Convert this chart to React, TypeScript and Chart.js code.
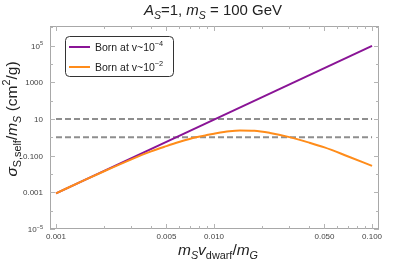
import React, { useEffect, useRef } from "react";
import { Chart, registerables } from "chart.js";
Chart.register(...registerables);

// ---- data ----
const purpleX = [0.001, 0.1];
const purpleY = [0.00088, 98000];
const orangeX = [0.001, 0.0015, 0.002, 0.003, 0.004, 0.005, 0.006, 0.007, 0.0077, 0.009, 0.01, 0.0125, 0.0146, 0.018, 0.0226, 0.03, 0.04, 0.05, 0.07, 0.1];
const orangeY = [0.00088, 0.00447, 0.0137, 0.0628, 0.17, 0.33, 0.551, 0.815, 1.0, 1.32, 1.57, 2.14, 2.37, 2.29, 1.74, 1.02, 0.513, 0.282, 0.0933, 0.0279];
const boundX = [0.001, 0.1];
const boundLevels = [10, 1];
const seriesNames = ["Born at v~10", "Born at v~10"];
const seriesExps = ["\u22124", "\u22122"];
const xMajorTicks = [0.001, 0.005, 0.01, 0.05, 0.1];
const xTickLabels = ["0.001", "0.005", "0.010", "0.050", "0.100"];
const xMinorTicks = [0.002, 0.003, 0.004, 0.006, 0.007, 0.008, 0.009, 0.02, 0.03, 0.04, 0.06, 0.07, 0.08, 0.09];
const yMajorTicks = [1e-5, 1e-3, 0.1, 10, 1000, 1e5];
const yTickBase = ["10", "0.001", "0.100", "10", "1000", "10"];
const yTickExp = ["\u22125", "", "", "", "", "5"];
const yMinorTicks = [1e-4, 0.01, 1, 100, 1e4, 1e6];

const PURPLE = "#8a1496";
const ORANGE = "#ff8c1a";
const GRAY = "#8e8e8e";
const FONT = "'Liberation Sans', Arial, sans-serif";

type Run = { t: string; it?: boolean; sub?: boolean; sup?: boolean };

function runFont(r: Run, size: number) {
  const s = r.sub || r.sup ? size * 0.7 : size;
  return `${r.it ? "italic " : ""}${s}px ${FONT}`;
}

function drawRuns(ctx: CanvasRenderingContext2D, runs: Run[], x: number, y: number, size: number, align: "left" | "center" | "right", color: string) {
  ctx.save();
  ctx.textAlign = "left";
  ctx.textBaseline = "alphabetic";
  ctx.fillStyle = color;
  let total = 0;
  const widths = runs.map((r) => {
    ctx.font = runFont(r, size);
    const w = ctx.measureText(r.t).width;
    total += w;
    return w;
  });
  let cx = align === "left" ? x : align === "center" ? x - total / 2 : x - total;
  runs.forEach((r, i) => {
    ctx.font = runFont(r, size);
    const dy = r.sub ? size * 0.25 : r.sup ? -size * 0.42 : 0;
    ctx.fillText(r.t, cx, y + dy);
    cx += widths[i];
  });
  ctx.restore();
}

const decorPlugin = {
  id: "decor",
  afterDraw(chart: any) {
    const ctx: CanvasRenderingContext2D = chart.ctx;
    const { left, right, top, bottom } = chart.chartArea;
    const xs = chart.scales.x;
    const ys = chart.scales.y;
    ctx.save();
    // frame
    ctx.strokeStyle = "#a8a8a8";
    ctx.lineWidth = 1;
    ctx.strokeRect(left + 0.5, top + 0.5, right - left - 1, bottom - top - 1);
    // ticks
    const tick = (x1: number, y1: number, x2: number, y2: number) => {
      ctx.beginPath();
      ctx.moveTo(x1, y1);
      ctx.lineTo(x2, y2);
      ctx.stroke();
    };
    ctx.strokeStyle = "#b4b4b4";
    xMajorTicks.forEach((v) => {
      const px = Math.round(xs.getPixelForValue(v)) + 0.5;
      tick(px, bottom, px, bottom - 5);
      tick(px, top, px, top + 5);
    });
    xMinorTicks.forEach((v) => {
      const px = Math.round(xs.getPixelForValue(v)) + 0.5;
      tick(px, bottom, px, bottom - 3);
      tick(px, top, px, top + 3);
    });
    yMajorTicks.forEach((v) => {
      const py = Math.round(ys.getPixelForValue(v)) + 0.5;
      tick(left, py, left + 5, py);
      tick(right, py, right - 5, py);
    });
    yMinorTicks.forEach((v) => {
      const py = Math.round(ys.getPixelForValue(v)) + 0.5;
      if (py < top + 1) return;
      tick(left, py, left + 3, py);
      tick(right, py, right - 3, py);
    });
    // tick labels
    xMajorTicks.forEach((v, i) => {
      const px = xs.getPixelForValue(v);
      drawRuns(ctx, [{ t: xTickLabels[i] }], px, bottom + 10, 8, "center", "#444");
    });
    yMajorTicks.forEach((v, i) => {
      const py = ys.getPixelForValue(v);
      const runs: Run[] = [{ t: yTickBase[i] }];
      if (yTickExp[i]) runs.push({ t: yTickExp[i], sup: true });
      drawRuns(ctx, runs, left - 7, py + 3, 8, "right", "#444");
    });
    // title
    drawRuns(
      ctx,
      [
        { t: "A", it: true },
        { t: "S", it: true, sub: true },
        { t: "=1, " },
        { t: "m", it: true },
        { t: "S", it: true, sub: true },
        { t: " = 100 GeV" },
      ],
      213,
      15,
      15,
      "center",
      "#222"
    );
    // x title
    drawRuns(
      ctx,
      [
        { t: "m", it: true },
        { t: "S", it: true, sub: true },
        { t: "v", it: true },
        { t: "dwarf", sub: true },
        { t: "/" },
        { t: "m", it: true },
        { t: "G", it: true, sub: true },
      ],
      218,
      255,
      15.5,
      "center",
      "#222"
    );
    // y title
    ctx.save();
    ctx.translate(17, 119);
    ctx.rotate(-Math.PI / 2);
    drawRuns(
      ctx,
      [
        { t: "\u03c3", it: true },
        { t: "S,self", sub: true },
        { t: "/" },
        { t: "m", it: true },
        { t: "S", it: true, sub: true },
        { t: " (cm" },
        { t: "2", sup: true },
        { t: "/g)" },
      ],
      0,
      0,
      15.5,
      "center",
      "#222"
    );
    ctx.restore();
    // legend
    const lx = 65.5, ly = 36.5, lw = 108, lh = 40, r = 4;
    ctx.fillStyle = "#fff";
    ctx.strokeStyle = "#333";
    ctx.lineWidth = 1;
    ctx.beginPath();
    ctx.moveTo(lx + r, ly);
    ctx.lineTo(lx + lw - r, ly);
    ctx.arcTo(lx + lw, ly, lx + lw, ly + r, r);
    ctx.lineTo(lx + lw, ly + lh - r);
    ctx.arcTo(lx + lw, ly + lh, lx + lw - r, ly + lh, r);
    ctx.lineTo(lx + r, ly + lh);
    ctx.arcTo(lx, ly + lh, lx, ly + lh - r, r);
    ctx.lineTo(lx, ly + r);
    ctx.arcTo(lx, ly, lx + r, ly, r);
    ctx.closePath();
    ctx.fill();
    ctx.stroke();
    const colors = [PURPLE, ORANGE];
    seriesNames.forEach((name, i) => {
      const yy = 47 + i * 20;
      ctx.strokeStyle = colors[i];
      ctx.lineWidth = 2;
      ctx.beginPath();
      ctx.moveTo(69, yy);
      ctx.lineTo(90, yy);
      ctx.stroke();
      drawRuns(ctx, [{ t: name }, { t: seriesExps[i], sup: true }], 95, yy + 3.5, 10.5, "left", "#222");
    });
    ctx.restore();
  },
};

export default function App() {
  const ref = useRef<HTMLCanvasElement | null>(null);
  useEffect(() => {
    document.body.style.margin = "0";
    const canvas = ref.current!;
    const chart = new Chart(canvas, {
      type: "line",
      data: {
        datasets: [
          {
            label: "bound10",
            data: boundX.map((x) => ({ x, y: boundLevels[0] })),
            borderColor: GRAY,
            borderWidth: 2,
            borderDash: [6, 3],
            pointRadius: 0,
            order: 3,
          },
          {
            label: "bound1",
            data: boundX.map((x) => ({ x, y: boundLevels[1] })),
            borderColor: GRAY,
            borderWidth: 2,
            borderDash: [6, 3],
            pointRadius: 0,
            order: 3,
          },
          {
            label: seriesNames[0] + seriesExps[0],
            data: purpleX.map((x, i) => ({ x, y: purpleY[i] })),
            borderColor: PURPLE,
            borderWidth: 2,
            pointRadius: 0,
            order: 2,
          },
          {
            label: seriesNames[1] + seriesExps[1],
            data: orangeX.map((x, i) => ({ x, y: orangeY[i] })),
            borderColor: ORANGE,
            borderWidth: 2,
            pointRadius: 0,
            cubicInterpolationMode: "monotone",
            order: 1,
          },
        ],
      },
      options: {
        animation: false,
        responsive: false,
        devicePixelRatio: 1,
        layout: { padding: { left: 50, right: 24, top: 26, bottom: 37 } },
        plugins: { legend: { display: false }, tooltip: { enabled: false }, title: { display: false } },
        scales: {
          x: { type: "logarithmic", min: Math.pow(10, -3.038), max: Math.pow(10, -0.956), display: false },
          y: { type: "logarithmic", min: 1e-5, max: Math.pow(10, 6.07), display: false },
        },
      },
      plugins: [decorPlugin],
    } as any);
    return () => chart.destroy();
  }, []);
  return (
    <div style={{ position: "absolute", left: 0, top: 0, width: 403, height: 266, background: "#fff" }}>
      <canvas ref={ref} width={403} height={266} />
    </div>
  );
}
